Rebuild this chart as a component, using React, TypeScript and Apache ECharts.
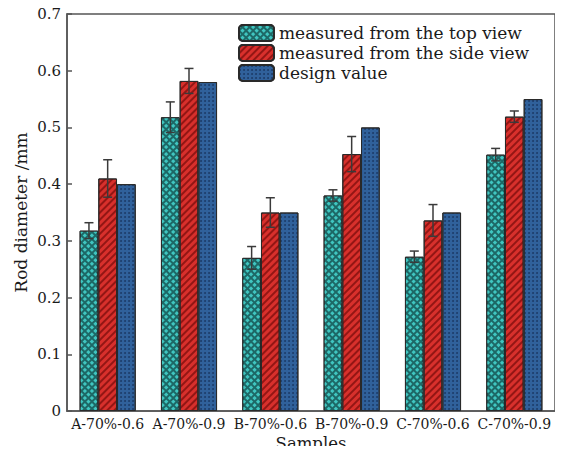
import React, { useEffect, useRef } from "react";
import * as echarts from "echarts";

const categories = ["A-70%-0.6", "A-70%-0.9", "B-70%-0.6", "B-70%-0.9", "C-70%-0.6", "C-70%-0.9"];
const seriesNames = ["measured from the top view", "measured from the side view", "design value"];

const topView = [0.318, 0.518, 0.27, 0.38, 0.272, 0.452];
const topViewErr = [0.014, 0.027, 0.02, 0.01, 0.01, 0.011];
const sideView = [0.41, 0.582, 0.35, 0.453, 0.336, 0.519];
const sideViewErr = [0.033, 0.022, 0.026, 0.031, 0.028, 0.01];
const designValue = [0.4, 0.58, 0.35, 0.5, 0.35, 0.55];

const yTicks = [0, 0.1, 0.2, 0.3, 0.4, 0.5, 0.6, 0.7];

const FONT = "DejaVu Serif";
const CAT_GAP = 0.31;

function errorSeries(values: number[], errs: number[], slot: number) {
  return {
    type: "custom",
    z: 5,
    silent: true,
    encode: { x: 0, y: 1 },
    data: values.map((v, i) => [i, v, errs[i]]),
    renderItem: (params: any, api: any) => {
      const idx = api.value(0);
      const v = api.value(1);
      const e = api.value(2);
      const band = api.size([1, 0])[0];
      const barW = (band * (1 - CAT_GAP)) / 3;
      const cx = api.coord([idx, v])[0] + (slot - 1) * barW;
      const yHi = api.coord([idx, v + e])[1];
      const yLo = api.coord([idx, v - e])[1];
      const half = 4.5;
      const style = { stroke: "#3a3a3a", lineWidth: 1.5 };
      return {
        type: "group",
        children: [
          { type: "line", shape: { x1: cx, y1: yHi, x2: cx, y2: yLo }, style },
          { type: "line", shape: { x1: cx - half, y1: yHi, x2: cx + half, y2: yHi }, style },
          { type: "line", shape: { x1: cx - half, y1: yLo, x2: cx + half, y2: yLo }, style },
        ],
      };
    },
  };
}

export default function App() {
  const ref = useRef<HTMLDivElement>(null);

  useEffect(() => {
    if (!ref.current) return;
    const chart = echarts.init(ref.current, undefined, { renderer: "svg" });

    const barBorder = { borderColor: "#2a2a2a", borderWidth: 1 };

    chart.setOption({
      animation: false,
      backgroundColor: "#ffffff",
      grid: {
        left: 67,
        right: 8,
        top: 14,
        bottom: 43,
        containLabel: false,
        outerBoundsMode: "none",
        show: true,
        borderColor: "#555555",
        borderWidth: 1.5,
      },
      legend: {
        data: seriesNames,
        orient: "vertical",
        left: 233,
        top: 19,
        itemWidth: 35,
        itemHeight: 16,
        itemGap: 2,
        selectedMode: false,
        textStyle: { fontFamily: FONT, fontSize: 17, color: "#1a1a1a" },
      },
      xAxis: {
        type: "category",
        data: categories,
        name: "Samples",
        nameLocation: "middle",
        nameGap: 24,
        nameMoveOverlap: false,
        nameTextStyle: { fontFamily: FONT, fontSize: 16.5, color: "#1a1a1a", verticalAlign: "top" },
        axisLine: { lineStyle: { color: "#555555", width: 1.5 } },
        axisTick: { show: false },
        axisLabel: { interval: 0, fontFamily: FONT, fontSize: 14, color: "#1a1a1a", margin: 6 },
      },
      yAxis: {
        type: "value",
        min: 0,
        max: 0.7,
        interval: 0.1,
        name: "Rod diameter /mm",
        nameLocation: "middle",
        nameGap: 38,
        nameMoveOverlap: false,
        nameTextStyle: { fontFamily: FONT, fontSize: 17, color: "#1a1a1a" },
        axisLine: { show: true, lineStyle: { color: "#555555", width: 1.5 } },
        axisTick: { show: true, inside: true, length: 5, lineStyle: { color: "#555555", width: 1.5 } },
        splitLine: { show: false },
        axisLabel: {
          fontFamily: FONT,
          fontSize: 15,
          color: "#1a1a1a",
          margin: 6,
          formatter: (v: number) => {
            const t = yTicks.find((k) => Math.abs(k - v) < 1e-9);
            return t === 0 ? "0" : (t ?? v).toFixed(1);
          },
        },
      },
      series: [
        {
          name: seriesNames[0],
          type: "bar",
          barGap: "0%",
          barCategoryGap: CAT_GAP * 100 + "%",
          data: topView,
          itemStyle: {
            color: "#1d6866",
            ...barBorder,
            decal: {
              symbol: "rect",
              color: "#40c6c1",
              dashArrayX: [3, 1.2],
              dashArrayY: [3, 1.2],
              rotation: Math.PI / 4,
              symbolSize: 1,
            },
          },
        },
        {
          name: seriesNames[1],
          type: "bar",
          barGap: "0%",
          barCategoryGap: CAT_GAP * 100 + "%",
          data: sideView,
          itemStyle: {
            color: "#d8302c",
            ...barBorder,
            decal: {
              symbol: "rect",
              color: "rgba(90,0,0,0.55)",
              dashArrayX: [1, 0],
              dashArrayY: [1.2, 2.2],
              rotation: -Math.PI / 4,
              symbolSize: 1,
            },
          },
        },
        {
          name: seriesNames[2],
          type: "bar",
          barGap: "0%",
          barCategoryGap: CAT_GAP * 100 + "%",
          data: designValue,
          itemStyle: {
            color: "#30619b",
            ...barBorder,
            decal: {
              symbol: "circle",
              color: "rgba(12,30,65,0.6)",
              dashArrayX: [2, 1.5],
              dashArrayY: [2, 1.5],
              symbolSize: 0.9,
            },
          },
        },
        errorSeries(topView, topViewErr, 0),
        errorSeries(sideView, sideViewErr, 1),
      ],
    });

    return () => chart.dispose();
  }, []);

  return <div ref={ref} style={{ width: 563, height: 454, margin: -8 }} />;
}
